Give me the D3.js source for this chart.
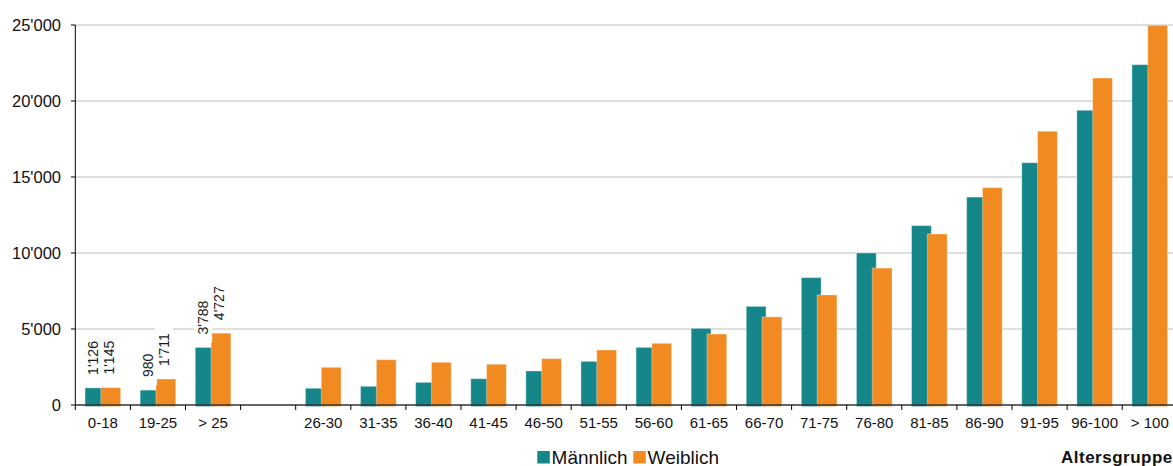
<!DOCTYPE html>
<html>
<head>
<meta charset="utf-8">
<script src="https://cdn.jsdelivr.net/npm/d3@7"></script>
<style>
  html, body { margin: 0; padding: 0; background: #fff; }
  svg { display: block; font-family: "Liberation Sans", Arial, sans-serif; }
</style>
</head>
<body>
<svg id="chart" width="1173" height="466"></svg>
<script>
// Altersgruppen (one empty slot separates the first three groups from the 5-year groups)
const categories = ["0-18", "19-25", "> 25", "", "26-30", "31-35", "36-40", "41-45", "46-50",
  "51-55", "56-60", "61-65", "66-70", "71-75", "76-80", "81-85", "86-90", "91-95", "96-100", "> 100"];

const maennlich = [1126, 980, 3788, null, 1100, 1230, 1490, 1730, 2240, 2870, 3790, 5040,
  6490, 8380, 10000, 11800, 13680, 15940, 19390, 22390];

const weiblich = [1145, 1711, 4727, null, 2480, 2980, 2810, 2680, 3050, 3620, 4060, 4670,
  5800, 7240, 9010, 11250, 14300, 18010, 21510, 24980];

// groups whose values are written above the bars
const labelledGroups = ["0-18", "19-25", "> 25"];

const yTicks = [0, 5000, 10000, 15000, 20000, 25000];

const seriesNames = ["Männlich", "Weiblich"];
const seriesColors = ["#15868a", "#f28a22"];
const axisTitle = "Altersgruppe";

const swiss = d3.formatLocale({ decimal: ".", thousands: "'", grouping: [3], currency: ["", ""] });
const fmt = swiss.format(",d");

const svg = d3.select("#chart");

const x = d3.scaleBand().domain(categories).range([75.3, 1177.3]).padding(0);
const y = d3.scaleLinear().domain([0, 25000]).range([405, 25]);

const bw = x.bandwidth();
const barW = bw * 0.359;
const groupPad = bw * 0.177;
const shift = bw * 0.287;

// horizontal gridlines
svg.append("g")
  .selectAll("line")
  .data(yTicks.filter(d => d > 0))
  .join("line")
  .attr("x1", x.range()[0])
  .attr("x2", 1173)
  .attr("y1", d => y(d))
  .attr("y2", d => y(d))
  .attr("stroke", "#bdbdbd")
  .attr("stroke-width", 1.2);

// bars
const rows = categories.map((c, i) => ({ cat: c, vals: [maennlich[i], weiblich[i]] }));

seriesNames.forEach((name, s) => {
  svg.append("g")
    .selectAll("rect")
    .data(rows.filter(r => r.vals[s] != null))
    .join("rect")
    .attr("x", r => x(r.cat) + groupPad + s * shift)
    .attr("y", r => y(r.vals[s]))
    .attr("width", barW)
    .attr("height", r => y(0) - y(r.vals[s]) + 1.5)
    .attr("fill", seriesColors[s])
    .attr("stroke", "#ffffff")
    .attr("stroke-opacity", 0.35)
    .attr("stroke-width", 1);
});

// value labels, rotated, on white boxes
const labelG = svg.append("g");
rows.filter(r => labelledGroups.includes(r.cat)).forEach(r => {
  r.vals.forEach((v, s) => {
    const cx = x(r.cat) + groupPad + s * shift + barW / 2;
    const g = labelG.append("g")
      .attr("transform", `translate(${cx + 3},${y(v) - 13}) rotate(-90)`);
    const box = g.append("rect").attr("fill", "#fff");
    const t = g.append("text")
      .attr("x", 0).attr("y", 0)
      .attr("font-size", 14)
      .attr("fill", "#1a1a1a")
      .text(fmt(v));
    const len = t.node().getComputedTextLength();
    box.attr("x", -8).attr("y", -14).attr("width", len + 16).attr("height", 18);
  });
});

// y axis
const yAxis = svg.append("g");
yAxis.append("line")
  .attr("x1", 75.3).attr("x2", 75.3).attr("y1", y(25000)).attr("y2", y(0))
  .attr("stroke", "#000").attr("stroke-width", 1);
yAxis.selectAll("line.tick")
  .data(yTicks)
  .join("line")
  .attr("class", "tick")
  .attr("x1", 71).attr("x2", 75.3)
  .attr("y1", d => y(d)).attr("y2", d => y(d))
  .attr("stroke", "#000").attr("stroke-width", 1);
yAxis.selectAll("text")
  .data(yTicks)
  .join("text")
  .attr("x", 61)
  .attr("y", d => y(d) + 6)
  .attr("text-anchor", "end")
  .attr("font-size", 16.5)
  .attr("fill", "#111")
  .text(d => fmt(d));

// x axis
const xAxis = svg.append("g");
xAxis.append("line")
  .attr("x1", 75.3).attr("x2", 1173).attr("y1", y(0)).attr("y2", y(0))
  .attr("stroke", "#333").attr("stroke-width", 1.3);
xAxis.selectAll("line.tick")
  .data(categories)
  .join("line")
  .attr("class", "tick")
  .attr("x1", d => x(d)).attr("x2", d => x(d))
  .attr("y1", y(0)).attr("y2", y(0) + 5)
  .attr("stroke", "#000").attr("stroke-width", 1);
xAxis.selectAll("text")
  .data(categories)
  .join("text")
  .attr("x", d => x(d) + bw / 2)
  .attr("y", 427.5)
  .attr("text-anchor", "middle")
  .attr("font-size", 15)
  .attr("fill", "#111")
  .text(d => d);

// axis title
svg.append("text")
  .attr("x", 1061)
  .attr("y", 463)
  .attr("font-size", 17)
  .attr("font-weight", "bold")
  .attr("letter-spacing", 0.5)
  .attr("fill", "#111")
  .text(axisTitle);

// legend
const legendX = [537.3, 633.3];
const legend = svg.append("g");
seriesNames.forEach((name, s) => {
  legend.append("rect")
    .attr("x", legendX[s]).attr("y", 451)
    .attr("width", 12.5).attr("height", 12.5)
    .attr("fill", seriesColors[s]);
  legend.append("text")
    .attr("x", legendX[s] + 14.3)
    .attr("y", 463.5)
    .attr("font-size", 19)
    .attr("fill", "#111")
    .text(name);
});
</script>
</body>
</html>
